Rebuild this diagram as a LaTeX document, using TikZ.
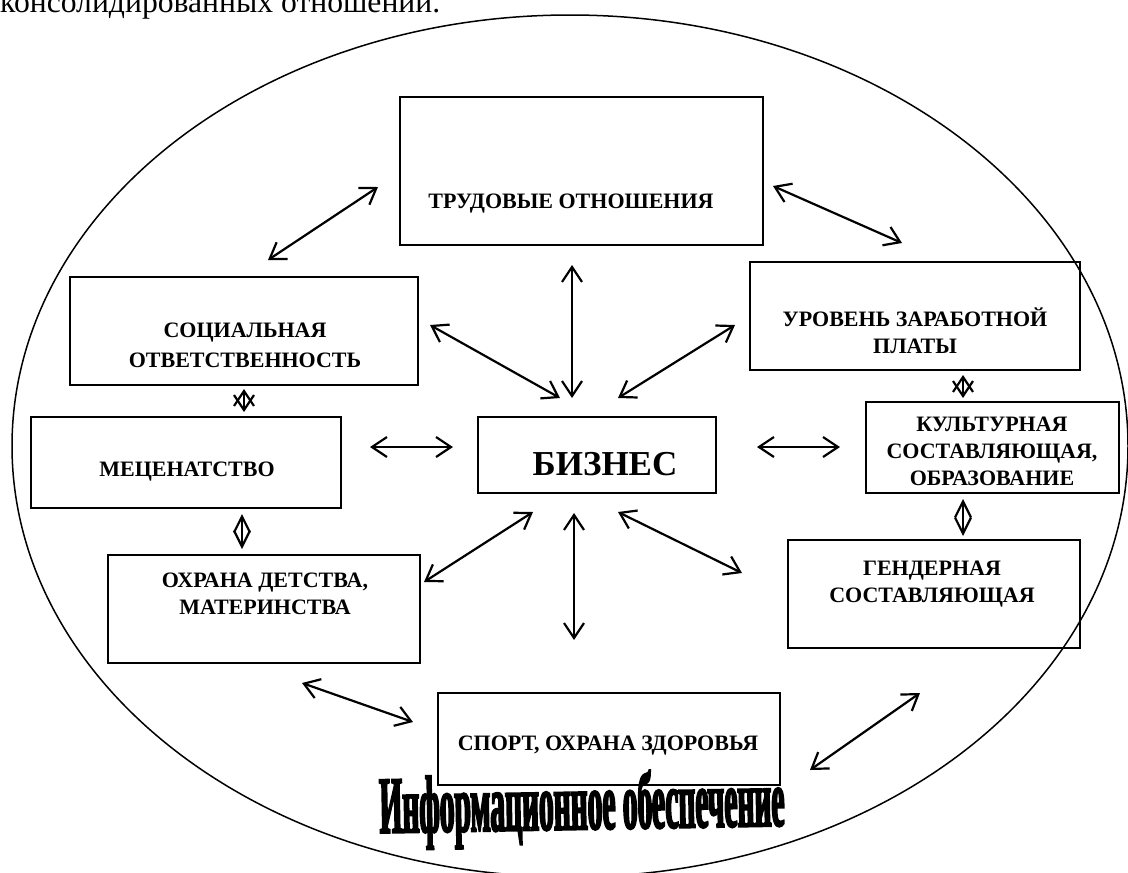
\documentclass[tikz,border=0pt]{standalone}
\usepackage{fontspec}
\usepackage{graphicx}
\setmainfont{Liberation Serif}[BoldFont={Liberation Serif Bold}]
\newfontfamily\wafont[FakeStretch=0.45,FakeBold=2.5]{Liberation Serif Bold}
\usetikzlibrary{arrows.meta,fit,shapes.geometric}
\begin{document}
\begin{tikzpicture}[x=1pt,y=-1pt,
  box/.style={draw, line width=1.7pt, inner sep=0pt},
  lbl/.style={inner sep=0pt, align=center, font=\fontsize{22}{27}\selectfont\bfseries},
  arr/.style={line width=2.2pt, line join=miter, {Straight Barb[length=15pt,width=20pt]}-{Straight Barb[length=15pt,width=20pt]}},
  sarr/.style={line width=2.2pt, {Straight Barb[length=15pt,width=20pt]}-{Straight Barb[length=15pt,width=20pt]}},
  darr/.style={line width=2.2pt, {Straight Barb[length=16pt,width=16pt]}-{Straight Barb[length=16pt,width=16pt]}}]
\clip (0,0) rectangle (1128,873);
% outer ellipse
\node[draw, ellipse, line width=1.5pt, minimum width=1116pt, minimum height=862pt, inner sep=0pt] (ell) at (570,446) {};
% top cut text
\node[anchor=base west, inner sep=0pt] (toptext) at (0,12) {\resizebox{440pt}{!}{консолидированных отношений.}};
% boxes
\node[box, fit={(400,97) (763,245)}] (trud) {};
\node[box, fit={(70,277) (418,385)}] (soc) {};
\node[box, fit={(750,262) (1080,370)}] (zarp) {};
\node[box, fit={(31,417) (341,508)}] (mec) {};
\node[box, fit={(478,417) (716,493)}] (biz) {};
\node[box, fit={(866,402) (1119,493)}] (kult) {};
\node[box, fit={(108,555) (420,663)}] (ohr) {};
\node[box, fit={(788,540) (1080,648)}] (gend) {};
\node[box, fit={(438,693) (780,785)}] (sport) {};
% labels
\node[lbl] (trudT) at (571,204) {ТРУДОВЫЕ ОТНОШЕНИЯ};
\node[lbl, font=\fontsize{22}{30}\selectfont\bfseries] (socT) at (245,345) {СОЦИАЛЬНАЯ\\ОТВЕТСТВЕННОСТЬ};
\node[lbl] (zarpT) at (915,331) {УРОВЕНЬ ЗАРАБОТНОЙ\\ПЛАТЫ};
\node[lbl] (mecT) at (187,472) {МЕЦЕНАТСТВО};
\node[inner sep=0pt, font=\fontsize{35}{40}\selectfont\bfseries] (bizT) at (605,464) {БИЗНЕС};
\node[lbl] (kultT) at (992,451) {КУЛЬТУРНАЯ\\СОСТАВЛЯЮЩАЯ,\\ОБРАЗОВАНИЕ};
\node[lbl] (ohrT) at (265,594) {ОХРАНА ДЕТСТВА,\\МАТЕРИНСТВА};
\node[lbl] (gendT) at (932,584) {ГЕНДЕРНАЯ\\СОСТАВЛЯЮЩАЯ};
\node[lbl] (sportT) at (608,746) {СПОРТ, ОХРАНА ЗДОРОВЬЯ};
\node[inner sep=0pt, rotate=1] (info) at (582,809) {\resizebox{405pt}{58pt}{\fontsize{64}{70}\wafont Информационное обеспечение}};
% arrow end points
\coordinate (a1) at (268,260); \coordinate (a2) at (378,187);
\coordinate (b1) at (773,186); \coordinate (b2) at (902,243);
\coordinate (c1) at (572,265); \coordinate (c2) at (572,398);
\coordinate (d1) at (430,325); \coordinate (d2) at (560,398);
\coordinate (e1) at (735,325); \coordinate (e2) at (618,398);
\coordinate (f1) at (370,447); \coordinate (f2) at (453,447);
\coordinate (g1) at (757,447); \coordinate (g2) at (840,447);
\coordinate (h1) at (533,512); \coordinate (h2) at (424,582);
\coordinate (i1) at (574,513); \coordinate (i2) at (574,640);
\coordinate (j1) at (618,512); \coordinate (j2) at (742,573);
\coordinate (k1) at (302,683); \coordinate (k2) at (413,722);
\coordinate (l1) at (810,770); \coordinate (l2) at (920,693);
\coordinate (m1) at (244,389); \coordinate (m2) at (244,412);
\coordinate (n1) at (963,375); \coordinate (n2) at (963,398);
\coordinate (o1) at (242,514); \coordinate (o2) at (242,549);
\coordinate (p1) at (963,499); \coordinate (p2) at (963,536);
% connectors
\draw[arr] (a1) -- (a2);
\draw[arr] (b1) -- (b2);
\draw[arr] (c1) -- (c2);
\draw[arr] (d1) -- (d2);
\draw[arr] (e1) -- (e2);
\draw[arr] (f1) -- (f2);
\draw[arr] (g1) -- (g2);
\draw[arr] (h1) -- (h2);
\draw[arr] (i1) -- (i2);
\draw[arr] (j1) -- (j2);
\draw[arr] (k1) -- (k2);
\draw[arr] (l1) -- (l2);
\draw[sarr] (m1) -- (m2);
\draw[sarr] (n1) -- (n2);
\draw[darr] (o1) -- (o2);
\draw[darr] (p1) -- (p2);
\end{tikzpicture}
\end{document}
